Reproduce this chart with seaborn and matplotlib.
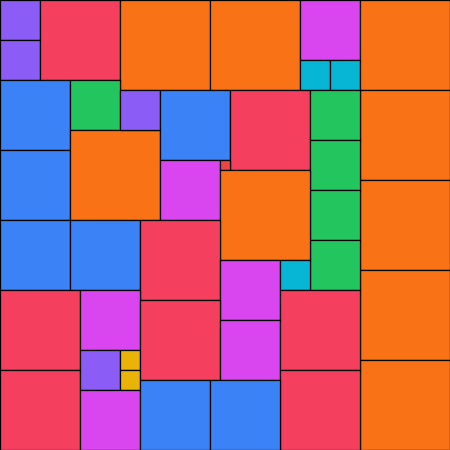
import matplotlib
matplotlib.use("Agg")
import matplotlib.pyplot as plt
from matplotlib.patches import Rectangle
import seaborn as sns

# tile layout (pixel units, origin top-left)
tile_x = [0, 0, 40, 120, 210, 300, 300, 330, 360,
          360, 360, 360, 360,
          0, 0, 0, 70, 70, 120, 160, 230,
          310, 310, 310, 310,
          160, 220, 220, 70, 140, 220, 280,
          0, 0, 80, 80, 120, 120, 80,
          140, 220, 280, 280, 140, 210]
tile_y = [0, 40, 0, 0, 0, 0, 60, 60, 0,
          90, 180, 270, 360,
          80, 150, 220, 80, 130, 90, 90, 90,
          90, 140, 190, 240,
          160, 160, 170, 220, 220, 260, 260,
          290, 370, 290, 350, 350, 370, 390,
          300, 320, 290, 370, 380, 380]
tile_w = [40, 40, 80, 90, 90, 60, 30, 30, 90,
          90, 90, 90, 90,
          70, 70, 70, 50, 90, 40, 70, 80,
          50, 50, 50, 50,
          60, 10, 90, 70, 80, 60, 30,
          80, 80, 60, 40, 20, 20, 60,
          80, 60, 80, 80, 70, 70]
tile_h = [40, 40, 80, 90, 90, 60, 30, 30, 90,
          90, 90, 90, 90,
          70, 70, 70, 50, 90, 40, 70, 80,
          50, 50, 50, 50,
          60, 10, 90, 70, 80, 60, 30,
          80, 80, 60, 40, 20, 20, 60,
          80, 60, 80, 80, 70, 70]
tile_group = ["violet", "violet", "rose", "orange", "orange", "fuchsia", "cyan", "cyan", "orange",
              "orange", "orange", "orange", "orange",
              "blue", "blue", "blue", "green", "orange", "violet", "blue", "rose",
              "green", "green", "green", "green",
              "fuchsia", "red", "orange", "blue", "rose", "fuchsia", "cyan",
              "rose", "rose", "fuchsia", "violet", "yellow", "yellow", "fuchsia",
              "rose", "fuchsia", "rose", "rose", "blue", "blue"]

palette = {"violet": "#8b5cf6", "rose": "#f43f5e", "orange": "#f97316",
           "fuchsia": "#d946ef", "cyan": "#06b6d4", "blue": "#3b82f6",
           "green": "#22c55e", "yellow": "#eab308", "red": "#ef4444"}

sns.set_theme(style="white")
fig = plt.figure(figsize=(4.5, 4.5), dpi=100)
ax = fig.add_axes([0, 0, 1, 1])

for x, y, w, h, g in zip(tile_x, tile_y, tile_w, tile_h, tile_group):
    ax.add_patch(Rectangle((x, y), w, h, facecolor=palette[g],
                           edgecolor="black", linewidth=0.9))

ax.set_xlim(0, 450)
ax.set_ylim(450, 0)
ax.axis("off")
fig.savefig("out.png", dpi=100, facecolor="white")
